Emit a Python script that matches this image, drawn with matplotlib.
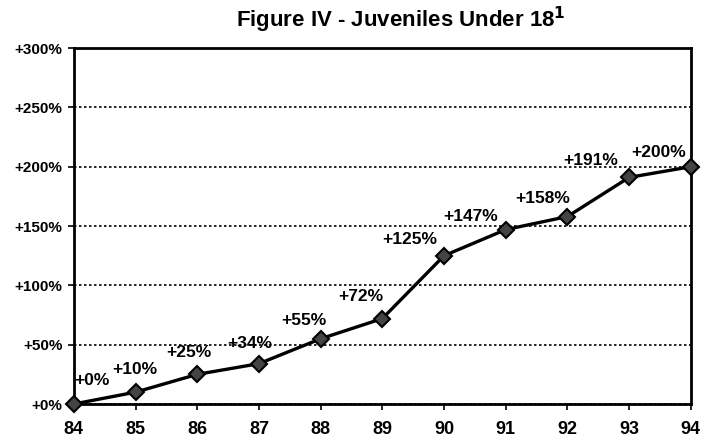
import matplotlib.pyplot as plt

years = ['84', '85', '86', '87', '88', '89', '90', '91', '92', '93', '94']
pct = [0, 10, 25, 34, 55, 72, 125, 147, 158, 191, 200]
labels = ['+%d%%' % v for v in pct]
yticks = [0, 50, 100, 150, 200, 250, 300]

# label placement (pixels, right edge / bottom of text relative to the marker)
lab_dx = [36, 22, 14, 13, 6, 1, -7, -8, 3, -11, -5]
lab_dy = [16, 15, 14, 13, 11, 15, 9, 6, 11, 9, 7]

plt.rcParams['font.family'] = ['Liberation Sans', 'DejaVu Sans']
plt.rcParams['font.weight'] = 'bold'

fig = plt.figure(figsize=(7.1, 4.37), dpi=100)
ax = fig.add_axes([0.104, 0.0755, 0.869, 0.8145])

x = list(range(len(years)))
ax.plot(x, pct, color='black', linewidth=2.4, marker='D', markersize=8,
        markerfacecolor='#444444', markeredgecolor='black', markeredgewidth=1.5,
        clip_on=False, zorder=3)

for xv, yv, s, dx, dy in zip(x, pct, labels, lab_dx, lab_dy):
    ax.annotate(s, (xv, yv), xytext=(dx, dy), textcoords='offset pixels',
                ha='right', va='bottom', fontsize=12.5, fontweight='bold')

ax.set_xlim(0, len(years) - 1)
ax.set_ylim(0, 300)
ax.set_xticks(x)
ax.set_xticklabels(years, fontsize=13, fontweight='bold')
ax.set_yticks(yticks)
ax.set_yticklabels(['+%d%%' % v for v in yticks], fontsize=11, fontweight='bold')
ax.tick_params(axis='x', length=4, width=1.2, pad=8)
ax.tick_params(axis='y', length=4, width=1.2, pad=4)

ax.yaxis.grid(True, linestyle=(0, (1.5, 1.5)), color='black', linewidth=1.2)
for sp in ax.spines.values():
    sp.set_linewidth(2)

fig.text(0.565, 0.955, r'Figure IV - Juveniles Under 18$^{\mathbf{1}}$', ha='center', va='center',
         fontsize=16, fontweight='bold')

fig.savefig('out.png', dpi=100)
